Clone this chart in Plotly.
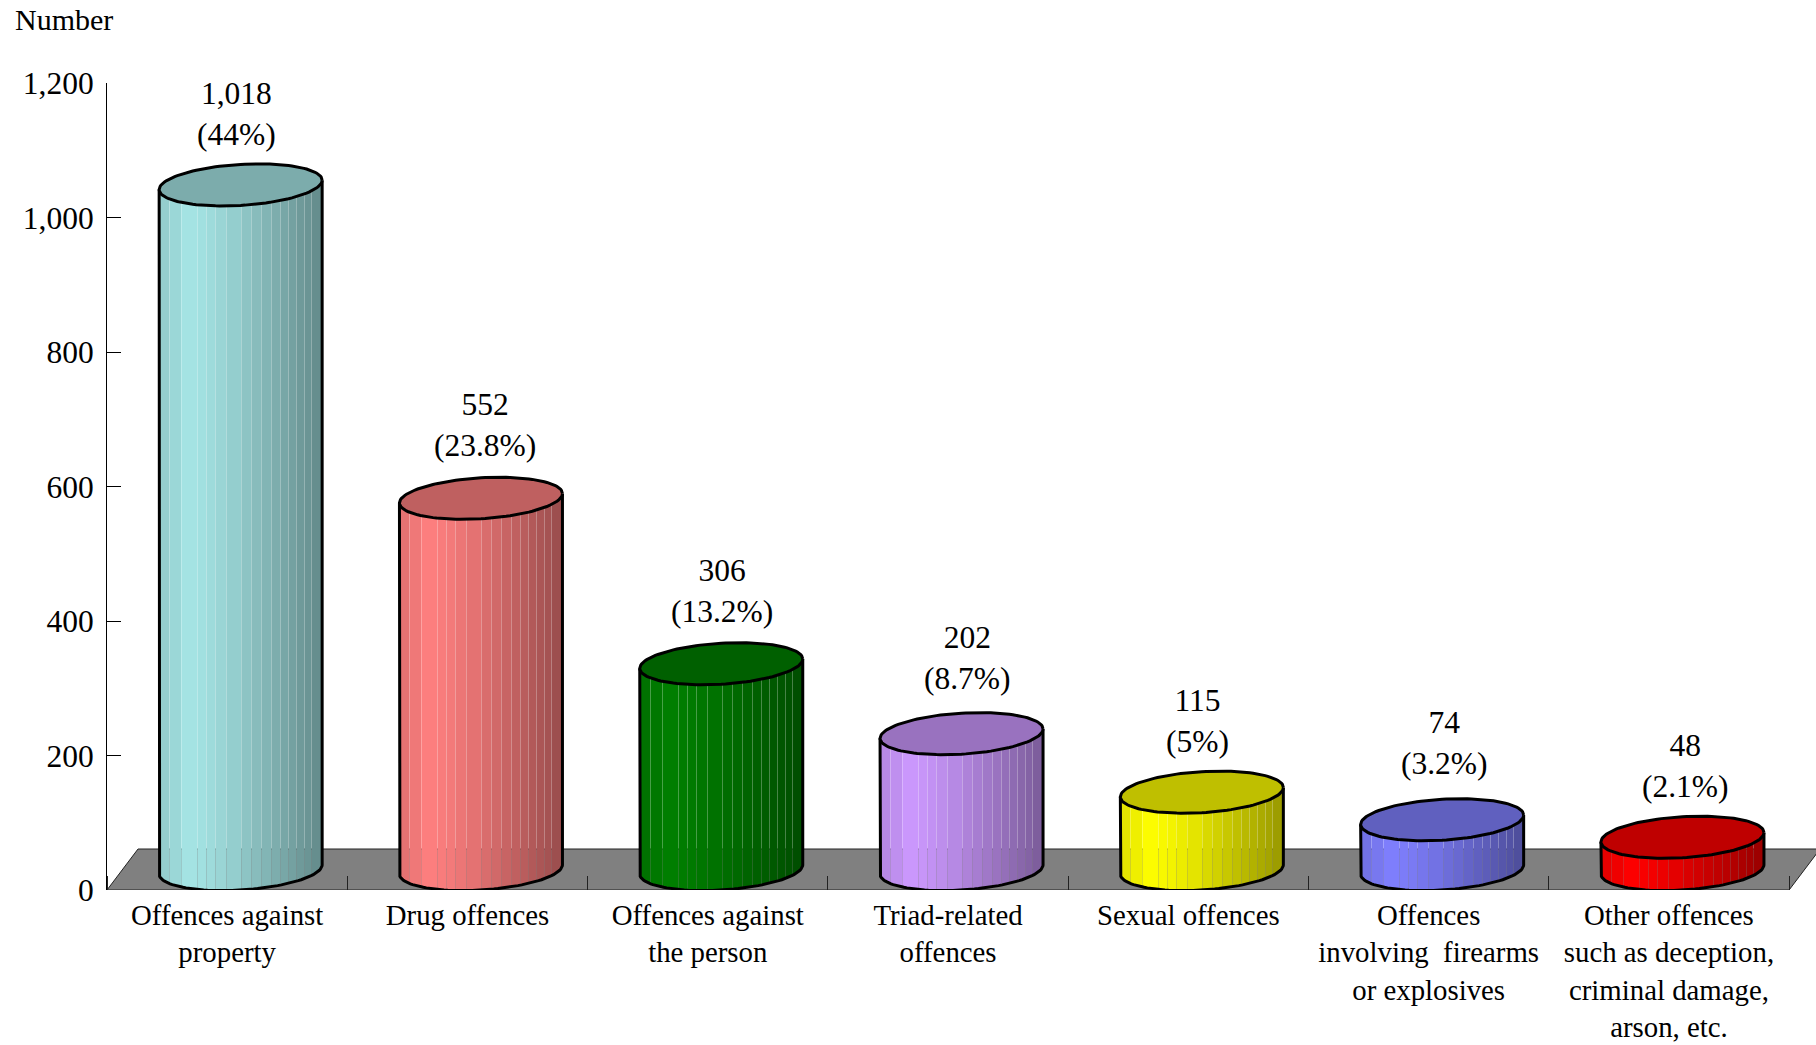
import numpy as np
import plotly.graph_objects as go

# ---- data ----
categories = [
    "Offences against<br>property",
    "Drug offences",
    "Offences against<br>the person",
    "Triad-related<br>offences",
    "Sexual offences",
    "Offences<br>involving\u00a0 firearms<br>or explosives",
    "Other offences<br>such as deception,<br>criminal damage,<br>arson, etc.",
]
values = [1018, 552, 306, 202, 115, 74, 48]
shares = ["44%", "23.8%", "13.2%", "8.7%", "5%", "3.2%", "2.1%"]
y_ticks = [0, 200, 400, 600, 800, 1000, 1200]
colors = ["#A6E6E6", "#FF8080", "#008000", "#CC99FF", "#FFFF00", "#8080FF", "#FF0000"]
label_nudge_px = [9, 18, 14, 19, 9, 16, 17]
label_lift_px = [2.5, 5, 4.5, 7.5, 3, 8.5, 3]

# ---- geometry ----
W, H = 1816, 1045
L, T, B = 107, 83, 155
PX_X = 240.3
PX_Y = (H - T - B) / 1200
XMAX = (W - L) / PX_X
CYL_W = 163
CYL_SHIFT = 13.5
SEMI_H = 20.5      # ellipse half height, px
TILT = 4.7         # ellipse tilt, px
LIFT = 20.5        # ellipse centre above the value, px
FLOOR_DX = 31
FLOOR_DY = 41
seams = [.066, .137, .238, .291, .348, .414, .506, .568, .629, .691, .746, .793, .844, .895, .936]


def rgb(c):
    return tuple(int(c[i:i + 2], 16) for i in (1, 3, 5))


def shade(f):
    return np.interp(f, [0, .2, .45, 1], [.88, 1.0, .9, .6])


fig = go.Figure()
a = CYL_W / 2 / PX_X
strip_n = CYL_W
seam_idx = [int(s * strip_n) for s in seams]
edges = [0] + seam_idx + [strip_n]

for i, (v, col) in enumerate(zip(values, colors)):
    cx = i + .5 + CYL_SHIFT / PX_X
    base_rgb = np.array(rgb(col))
    fr = (np.arange(strip_n) + .5) / strip_n
    left_px = round(PX_X * (cx - a))
    xs = (left_px + np.arange(strip_n) + .5) / PX_X
    u = 2 * fr - 1
    # lower arc of bottom ellipse and of the top ellipse, in value units
    low = (LIFT - SEMI_H * np.sqrt(1 - u ** 2) + TILT * u) / PX_Y
    top = v + (LIFT + TILT * u) / PX_Y
    cols = []
    for k in range(strip_n):
        seg = np.searchsorted(edges, k, side="right") - 1
        mid = (edges[seg] + edges[seg + 1]) / 2 / strip_n
        c = np.clip(base_rgb * shade(mid), 0, 255).astype(int)
        if k in seam_idx:
            cols.append(f"rgba({c[0]},{c[1]},{c[2]},0.72)")
        else:
            cols.append(f"rgb({c[0]},{c[1]},{c[2]})")
    fig.add_trace(go.Bar(x=xs, y=top - low, base=low, width=1 / PX_X,
                         marker=dict(color=cols, line=dict(width=0)),
                         showlegend=False, hoverinfo="skip"))

    t = np.linspace(0, 2 * np.pi, 121)
    ex = cx + a * np.cos(t)
    ey = v + (LIFT + SEMI_H * np.sin(t) + TILT * np.cos(t)) / PX_Y
    top_col = "rgb({},{},{})".format(*(base_rgb * .75).astype(int))
    # body outline: left side, lower arc, right side
    ta = np.linspace(np.pi, 2 * np.pi, 61)
    ax_ = cx + a * np.cos(ta)
    ay_ = (LIFT + SEMI_H * np.sin(ta) + TILT * np.cos(ta)) / PX_Y
    ox = np.concatenate([[cx - a], ax_, [cx + a]])
    oy = np.concatenate([[v + (LIFT - TILT) / PX_Y], ay_, [v + (LIFT + TILT) / PX_Y]])
    fig.add_trace(go.Scatter(x=ox, y=oy, mode="lines", line=dict(color="black", width=3),
                             cliponaxis=False, showlegend=False, hoverinfo="skip"))
    fig.add_trace(go.Scatter(x=ex, y=ey, mode="lines", fill="toself", fillcolor=top_col,
                             line=dict(color="black", width=3),
                             cliponaxis=False, showlegend=False, hoverinfo="skip"))

# floor of the 3-D chart
n = len(values)
dx, dy = FLOOR_DX / PX_X, FLOOR_DY / PX_Y
fig.add_shape(type="path", layer="below",
              path=f"M 0 0 L {n} 0 L {n + dx} {dy} L {dx} {dy} Z",
              fillcolor="#808080", line=dict(color="#222222", width=1))

annotations = [
    dict(x=i + .5 + label_nudge_px[i] / PX_X,
         y=v, yref="y", xref="x", showarrow=False,
         text=f"{v:,}<br>({s})", yanchor="bottom", xanchor="center",
         yshift=LIFT + SEMI_H + 8 + label_lift_px[i], font=dict(size=31.5))
    for i, (v, s) in enumerate(zip(values, shares))
]
annotations.append(dict(xref="paper", yref="paper", x=-0.0552, y=1.0785, xanchor="left", yanchor="middle",
                        text="Number", showarrow=False, font=dict(size=30)))

fig.update_layout(
    width=W, height=H,
    margin=dict(l=L, r=0, t=T, b=B, pad=0),
    paper_bgcolor="white", plot_bgcolor="white",
    font=dict(family="Liberation Serif", color="black"),
    barmode="overlay", bargap=0,
    showlegend=False,
    annotations=annotations,
    xaxis=dict(range=[0, XMAX], tickmode="array",
               tickvals=[i + .5 for i in range(n)], ticktext=categories,
               ticks="", showgrid=False, zeroline=False, showline=False,
               tickfont=dict(size=28.8), tickangle=0, ticklabelstandoff=5,
               minor=dict(tickmode="array", tickvals=list(range(n + 1)), ticks="inside",
                          ticklen=14, tickwidth=1, tickcolor="#222222", showgrid=False)),
    yaxis=dict(range=[0, 1200], tickmode="array", tickvals=y_ticks,
               ticktext=[f"{t:,}" for t in y_ticks],
               ticks="inside", ticklen=14, tickwidth=1, tickcolor="black",
               showline=True, linecolor="black", linewidth=1,
               showgrid=False, zeroline=False,
               tickfont=dict(size=31.5), ticklabelstandoff=6),
)

fig.write_html("out.html", post_script="document.body.style.margin='0';document.body.style.overflow='hidden';",
               config=dict(displayModeBar=False))
